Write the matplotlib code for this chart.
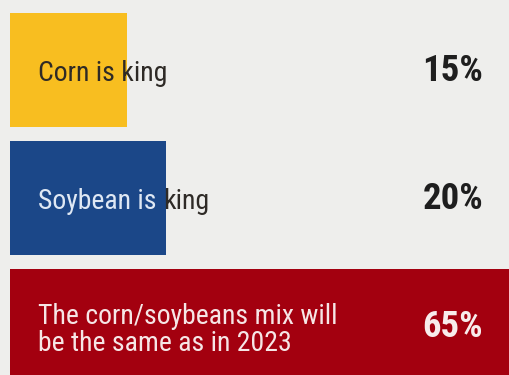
import matplotlib
matplotlib.use("Agg")
import matplotlib.pyplot as plt

labels_in = ["Corn is king", "Soybean is ", "The corn/soybeans mix will\nbe the same as in 2023"]
labels_out = ["", "king", ""]
values = [15, 20, 65]
pct_labels = ["15%", "20%", "65%"]
colors = ["#F8BE20", "#1B4788", "#A3000F"]
inner_text = ["#2e2a26", "#dfe8f4", "#f6e6e6"]
pct_colors = ["#1e1e1e", "#1e1e1e", "#f8ecec"]

fam = ["Roboto Condensed", "DejaVu Sans"]

W, H = 5.10, 3.75
fig = plt.figure(figsize=(W, H), dpi=100)
fig.patch.set_facecolor("#eeeeec")
ax = fig.add_axes([0, 0, 1, 1])
ax.set_facecolor("#eeeeec")
ppu = 7.8
ax.set_xlim(-10 / ppu, 500 / ppu)
ax.set_ylim((375 - 70) / 128, -70 / 128)
ax.axis("off")

ypos = list(range(len(values)))
bars = ax.barh(ypos, values, height=0.89, color=colors, left=0)

tx = 28 / ppu
for i in range(len(values)):
    t1 = ax.text(tx, ypos[i] + 0.03, labels_in[i], va="center", ha="left", fontsize=20,
                 color=inner_text[i], family=fam, linespacing=1.0)
    if labels_out[i]:
        ax.annotate(labels_out[i], xy=(1, 0), xycoords=t1, va="bottom", ha="left",
                    fontsize=20, color="#2e2a26", family=fam)
    ax.text(443 / ppu, ypos[i] + 0.005, pct_labels[i], va="center", ha="center",
            fontsize=26.5, fontweight="bold", color=pct_colors[i], family=fam)

fig.savefig("out.png", dpi=100, facecolor=fig.get_facecolor())
